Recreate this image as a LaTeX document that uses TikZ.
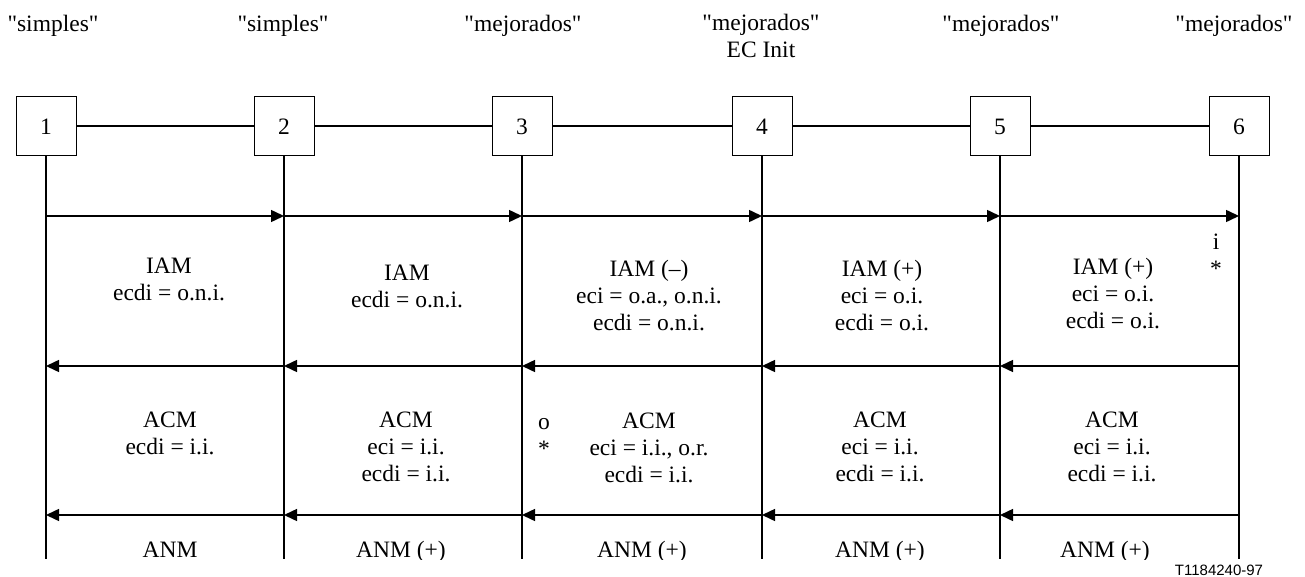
\documentclass[tikz,border=0pt]{standalone}
\usepackage{fontspec}
\setmainfont{Liberation Serif}[Ligatures=TeXOff]
\setsansfont{Liberation Sans}
\usetikzlibrary{arrows.meta}
\begin{document}
\begin{tikzpicture}[x=1pt,y=-1pt,
  every node/.style={font=\fontsize{23.5}{27}\selectfont},
  stn/.style={draw, line width=1pt, minimum width=60pt, minimum height=59pt, inner sep=0pt},
  wire/.style={line width=2pt},
  life/.style={line width=1.8pt},
  msg/.style={line width=1.5pt, -{Triangle[length=13pt,width=12pt]}},
  txt/.style={align=center, inner sep=0pt},
  idlabel/.style={inner sep=0pt, font=\sffamily\fontsize{15}{18}\selectfont}]
\useasboundingbox (0,0) rectangle (1305,577);

% exchanges: boxes, life lines and message levels
\foreach \i/\x in {1/46,2/284,3/522,4/762,5/1000,6/1239}{
  \node[stn] (b\i) at (\x,126.5) {\i};
  \coordinate (e\i) at (\x,559);
  \coordinate (p\i) at (\x,216);
  \coordinate (q\i) at (\x,366);
  \coordinate (r\i) at (\x,515);
  \draw[life] (b\i.south) -- (e\i);
}
\foreach \a/\b in {1/2,2/3,3/4,4/5,5/6}{
  \draw[wire] (b\a.east) -- (b\b.west);
  \draw[msg] (p\a) -- (p\b);
  \draw[msg] (q\b) -- (q\a);
  \draw[msg] (r\b) -- (r\a);
}

% exchange types
\node[txt] (l1) at (53,26) {"simples"};
\node[txt] (l2) at (283,26) {"simples"};
\node[txt] (l3) at (523,26) {"mejorados"};
\node[txt] (l4) at (761,36) {"mejorados"\\EC Init};
\node[txt] (l5) at (1001,26) {"mejorados"};
\node[txt] (l6) at (1234,26) {"mejorados"};

% IAM
\node[txt] (iam1) at (169,279) {IAM\\ecdi = o.n.i.};
\node[txt] (iam2) at (407,286) {IAM\\ecdi = o.n.i.};
\node[txt] (iam3) at (649,296) {IAM (–)\\eci = o.a., o.n.i.\\ecdi = o.n.i.};
\node[txt] (iam4) at (882,296) {IAM (+)\\eci = o.i.\\ecdi = o.i.};
\node[txt] (iam5) at (1113,294) {IAM (+)\\eci = o.i.\\ecdi = o.i.};
\node[txt] (mk6) at (1216,255) {i\\*};

% ACM
\node[txt] (acm1) at (170,433) {ACM\\ecdi = i.i.};
\node[txt] (acm2) at (406,447) {ACM\\eci = i.i.\\ecdi = i.i.};
\node[txt] (acm3) at (649,448) {ACM\\eci = i.i., o.r.\\ecdi = i.i.};
\node[txt] (acm4) at (880,447) {ACM\\eci = i.i.\\ecdi = i.i.};
\node[txt] (acm5) at (1112,447) {ACM\\eci = i.i.\\ecdi = i.i.};
\node[txt] (mk3) at (544,437) {o\\*};

% ANM, cut off at the end of the life lines
\begin{scope}
  \clip (0,0) rectangle (1305,559);
  \node[txt, anchor=base] (anm1) at (170,557) {ANM};
  \node[txt, anchor=base] (anm2) at (401,557) {ANM (+)};
  \node[txt, anchor=base] (anm3) at (642,557) {ANM (+)};
  \node[txt, anchor=base] (anm4) at (880,557) {ANM (+)};
  \node[txt, anchor=base] (anm5) at (1105,557) {ANM (+)};
\end{scope}

\node[idlabel] (id) at (1219,570) {T1184240-97};
\end{tikzpicture}
\end{document}
